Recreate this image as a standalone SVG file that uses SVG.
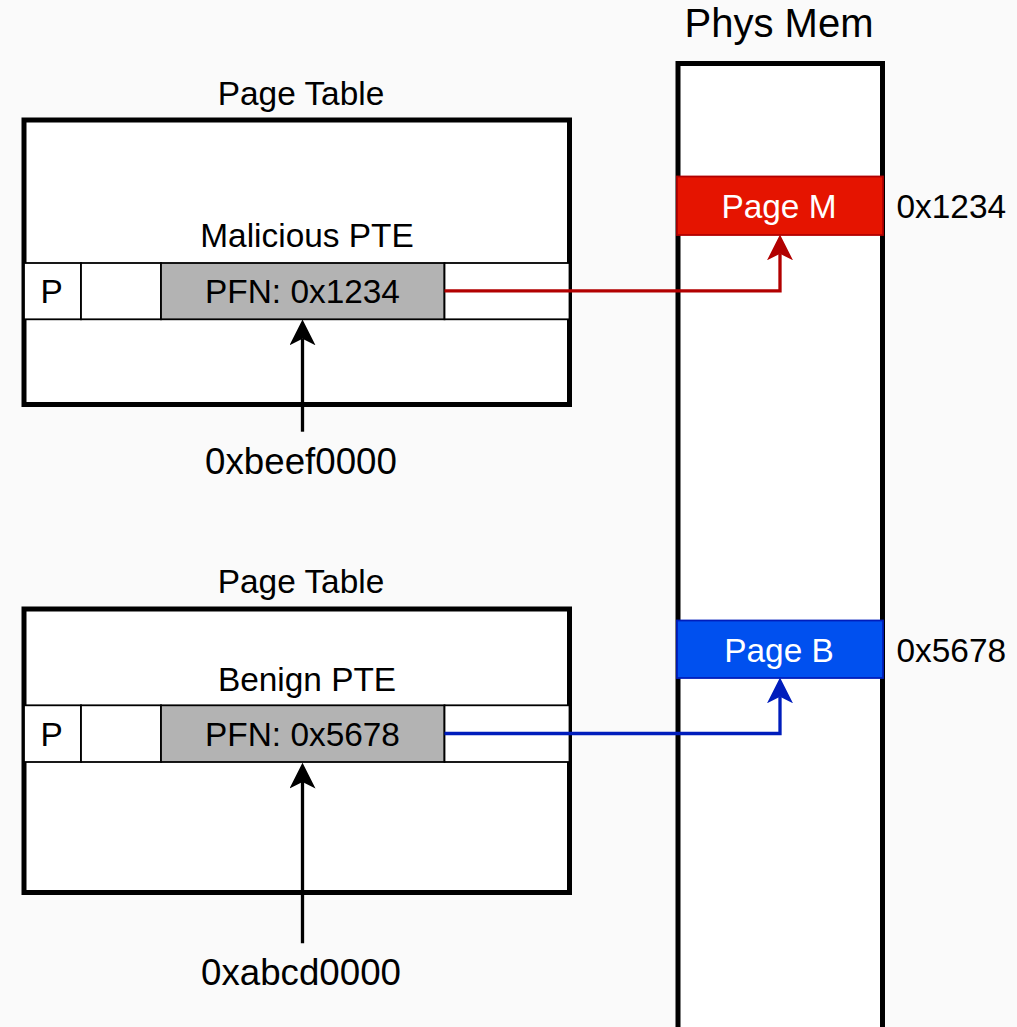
<svg xmlns="http://www.w3.org/2000/svg" width="1017" height="1027" viewBox="0 0 1017 1027">
  <style>
    text { font-family: "Liberation Sans", Arial, sans-serif; fill: #000000; }
    .t { font-size: 33.4px; text-anchor: middle; }
    .addr { font-size: 36.7px; text-anchor: middle; }
    .title { font-size: 40px; text-anchor: middle; }
    .lbl { font-size: 33.4px; text-anchor: start; }
    .wt { fill: #ffffff; }
    .table { fill: #ffffff; stroke: #000000; stroke-width: 5; }
    .cell { fill: #ffffff; stroke: #000000; stroke-width: 1.8; }
    .pfn { fill: #b3b3b3; stroke: #000000; stroke-width: 1.8; }
    .conn { fill: none; stroke-width: 3.3; }
  </style>
  <defs>
    <marker id="arrBlack" markerUnits="userSpaceOnUse" markerWidth="26" markerHeight="26" viewBox="0 0 25 25.2" refX="6.3" refY="12.6" orient="auto">
      <path d="M0,0 L25,12.6 L0,25.2 L6.3,12.6 Z" fill="#000000"/>
    </marker>
    <marker id="arrRed" markerUnits="userSpaceOnUse" markerWidth="26" markerHeight="26" viewBox="0 0 25 25.2" refX="6.3" refY="12.6" orient="auto">
      <path d="M0,0 L25,12.6 L0,25.2 L6.3,12.6 Z" fill="#b20000"/>
    </marker>
    <marker id="arrBlue" markerUnits="userSpaceOnUse" markerWidth="26" markerHeight="26" viewBox="0 0 25 25.2" refX="6.3" refY="12.6" orient="auto">
      <path d="M0,0 L25,12.6 L0,25.2 L6.3,12.6 Z" fill="#001dbc"/>
    </marker>
  </defs>
  <rect x="0" y="0" width="1017" height="1027" fill="#fafafa"/>

  <g id="physmem">
    <text class="title" x="779" y="37">Phys Mem</text>
    <rect class="table" x="678" y="63.5" width="204.5" height="990"/>
  </g>
  <g id="pageM">
    <rect x="677" y="176.5" width="206" height="58.5" fill="#e51400" stroke="#b20000" stroke-width="1.8"/>
    <text class="t wt" x="779" y="218.3">Page M</text>
    <text class="lbl" x="896.5" y="218.3">0x1234</text>
  </g>
  <g id="pageB">
    <rect x="677" y="620.5" width="206" height="57.5" fill="#0050ef" stroke="#001dbc" stroke-width="1.8"/>
    <text class="t wt" x="779" y="661.7">Page B</text>
    <text class="lbl" x="896.5" y="661.7">0x5678</text>
  </g>

  <g id="pagetable1">
    <text class="t" x="301" y="104.5">Page Table</text>
    <rect class="table" x="24" y="120" width="545.5" height="284.5"/>
    <text class="t" x="307" y="246.7">Malicious PTE</text>
  </g>
  <g id="pte1">
    <rect class="cell" x="24" y="263" width="57" height="56.3"/>
    <rect class="cell" x="81" y="263" width="80" height="56.3"/>
    <rect class="pfn" x="161" y="263" width="283.5" height="56.3"/>
    <rect class="cell" x="444.5" y="263" width="125" height="56.3"/>
    <text class="t" x="51.7" y="302.5">P</text>
    <text class="t" x="302.5" y="302.8">PFN: 0x1234</text>
  </g>
  <g id="addr1">
    <text class="addr" x="301" y="474">0xbeef0000</text>
  </g>

  <g id="pagetable2">
    <text class="t" x="301" y="592.5">Page Table</text>
    <rect class="table" x="24" y="609" width="545.5" height="283.5"/>
    <text class="t" x="307" y="690.5">Benign PTE</text>
  </g>
  <g id="pte2">
    <rect class="cell" x="24" y="705.3" width="57" height="56.7"/>
    <rect class="cell" x="81" y="705.3" width="80" height="56.7"/>
    <rect class="pfn" x="161" y="705.3" width="283.5" height="56.7"/>
    <rect class="cell" x="444.5" y="705.3" width="125" height="56.7"/>
    <text class="t" x="51.7" y="745.5">P</text>
    <text class="t" x="302.5" y="745.7">PFN: 0x5678</text>
  </g>
  <g id="addr2">
    <text class="addr" x="301" y="985">0xabcd0000</text>
  </g>

  <g id="connectors">
    <polyline class="conn" points="444.5,290.8 780,290.8 780,253.8" stroke="#b20000" marker-end="url(#arrRed)"/>
    <polyline class="conn" points="444.5,733.5 780,733.5 780,696.8" stroke="#001dbc" marker-end="url(#arrBlue)"/>
    <line class="conn" x1="302.5" y1="431.7" x2="302.5" y2="338.8" stroke="#000000" marker-end="url(#arrBlack)"/>
    <line class="conn" x1="302.5" y1="943.3" x2="302.5" y2="782" stroke="#000000" marker-end="url(#arrBlack)"/>
  </g>
</svg>
